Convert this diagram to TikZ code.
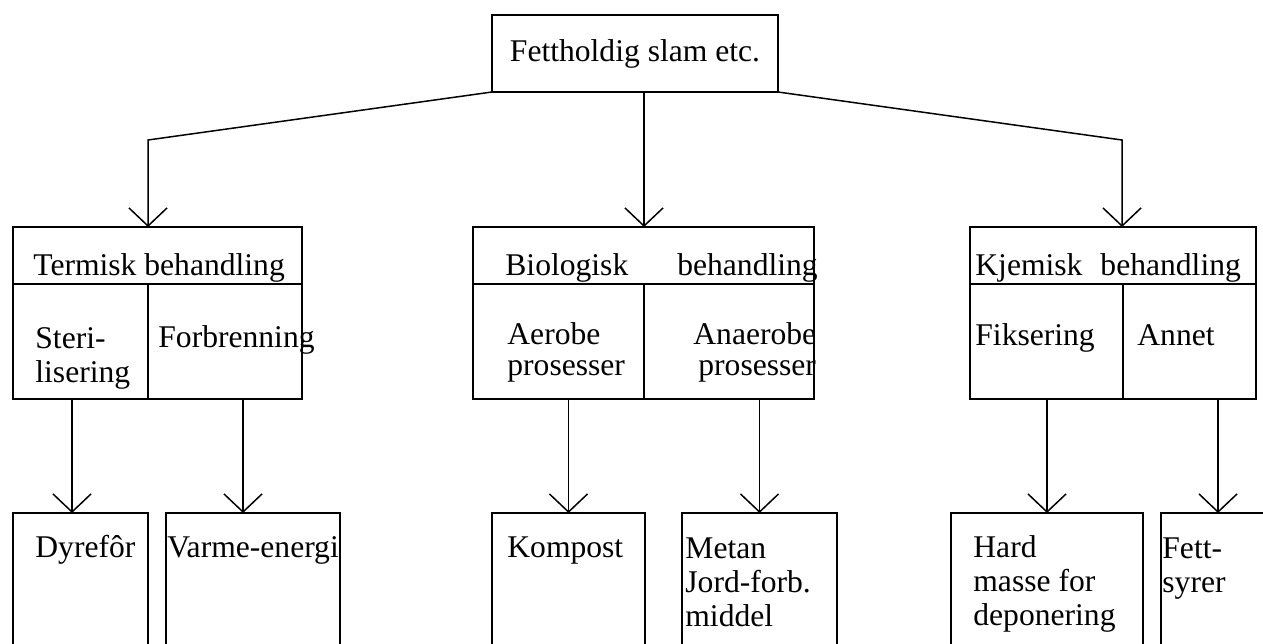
\documentclass[tikz,border=0pt]{standalone}
\usepackage{fontspec}
\setmainfont{Liberation Serif}
\usetikzlibrary{arrows.meta,positioning}

\begin{document}
\begin{tikzpicture}[
  x=0.5pt, y=-0.5pt,
  font=\fontsize{15.8}{17}\selectfont,
  box/.style={draw=black, line width=1pt, inner sep=0pt, outer sep=0pt, anchor=north west},
  txt/.style={inner sep=0pt, anchor=base west, align=left},
  arr/.style={-{Straight Barb[length=9pt, width=19pt]}, line width=0.75pt},
]
\useasboundingbox (0,0) rectangle (1263,643);
\clip (0,0) rectangle (1263,643);

% source
\node[box, minimum width=143pt, minimum height=38.5pt] (t) at (492,15) {Fettholdig slam etc.};

% treatment groups
\node[box, minimum width=144.5pt, minimum height=28.5pt] (h1) at (13,227) {};
\node[box, minimum width=67.5pt, minimum height=57.5pt, below right=0pt and 0pt of h1.south west] (s1a) {};
\node[box, minimum width=77pt, minimum height=57.5pt, right=0pt of s1a] (s1b) {};

\node[box, minimum width=170.5pt, minimum height=28.5pt] (h2) at (473,227) {};
\node[box, minimum width=85.5pt, minimum height=57.5pt, below right=0pt and 0pt of h2.south west] (s2a) {};
\node[box, minimum width=85pt, minimum height=57.5pt, right=0pt of s2a] (s2b) {};

\node[box, minimum width=143pt, minimum height=28.5pt] (h3) at (970,227) {};
\node[box, minimum width=76.5pt, minimum height=57.5pt, below right=0pt and 0pt of h3.south west] (s3a) {};
\node[box, minimum width=66.5pt, minimum height=57.5pt, right=0pt of s3a] (s3b) {};

% products
\node[box, minimum width=67.5pt, minimum height=93.5pt] (b1) at (13,513) {};
\node[box, minimum width=87pt, minimum height=93.5pt] (b2) at (166,513) {};
\node[box, minimum width=76.5pt, minimum height=93.5pt] (b3) at (492,513) {};
\node[box, minimum width=77.5pt, minimum height=93.5pt] (b4) at (682,513) {};
\node[box, minimum width=96pt, minimum height=93.5pt] (b5) at (951,513) {};
\node[box, minimum width=57pt, minimum height=93.5pt] (b6) at (1161,513) {};

% labels (base = last line)
\node[txt] (l1) at (33,275) {Termisk behandling};
\node[txt] (l1a) at (35,382) {Steri-\\lisering};
\node[txt] (l1b) at (158,347) {Forbrenning};
\node[txt] (l2) at (505,275) {Biologisk\hspace{24.5pt}behandling};
\node[txt] (l2a) at (507,375) {Aerobe\\[-1.5pt]prosesser};
\node[txt] (l2b) at (693,375) {Anaerobe\\[-1.5pt]\hspace{2.5pt}prosesser};
\node[txt] (l3) at (975,275) {Kjemisk\hspace{9pt}behandling};
\node[txt] (l3a) at (975,345) {Fiksering};
\node[txt] (l3b) at (1137,345) {Annet};
\node[txt] (p1) at (35,557) {Dyrefôr};
\node[txt] (p2) at (167,557) {Varme-energi};
\node[txt] (p3) at (507,557) {Kompost};
\node[txt] (p4) at (685,626) {Metan\\Jord-forb.\\middel};
\node[txt] (p5) at (973,625) {Hard\\masse for\\deponering};
\node[txt] (p6) at (1162,592) {Fett-\\syrer};

% connectors from source
\coordinate (k1) at (148,140);
\coordinate (k3) at (1122,140);
\draw[arr] (t.south west) -- (k1) -- (h1.north -| k1);
\draw[arr] (t.south -| s2a.east) -- (h2.north -| s2a.east);
\draw[arr] (t.south east) -- (k3) -- (h3.north -| k3);

% connectors to products
\draw[arr] ([xshift=-4.25pt]b1.north |- s1a.south) -- ([xshift=-4.25pt]b1.north);
\draw[arr] ([xshift=-5pt]b2.north |- s1b.south) -- ([xshift=-5pt]b2.north);
\draw[arr] (b3.north |- s2a.south) -- (b3.north);
\draw[arr] (b4.north |- s2b.south) -- (b4.north);
\draw[arr] (b5.north |- s3a.south) -- (b5.north);
\draw[arr] (b6.north |- s3b.south) -- (b6.north);

\end{tikzpicture}
\end{document}
